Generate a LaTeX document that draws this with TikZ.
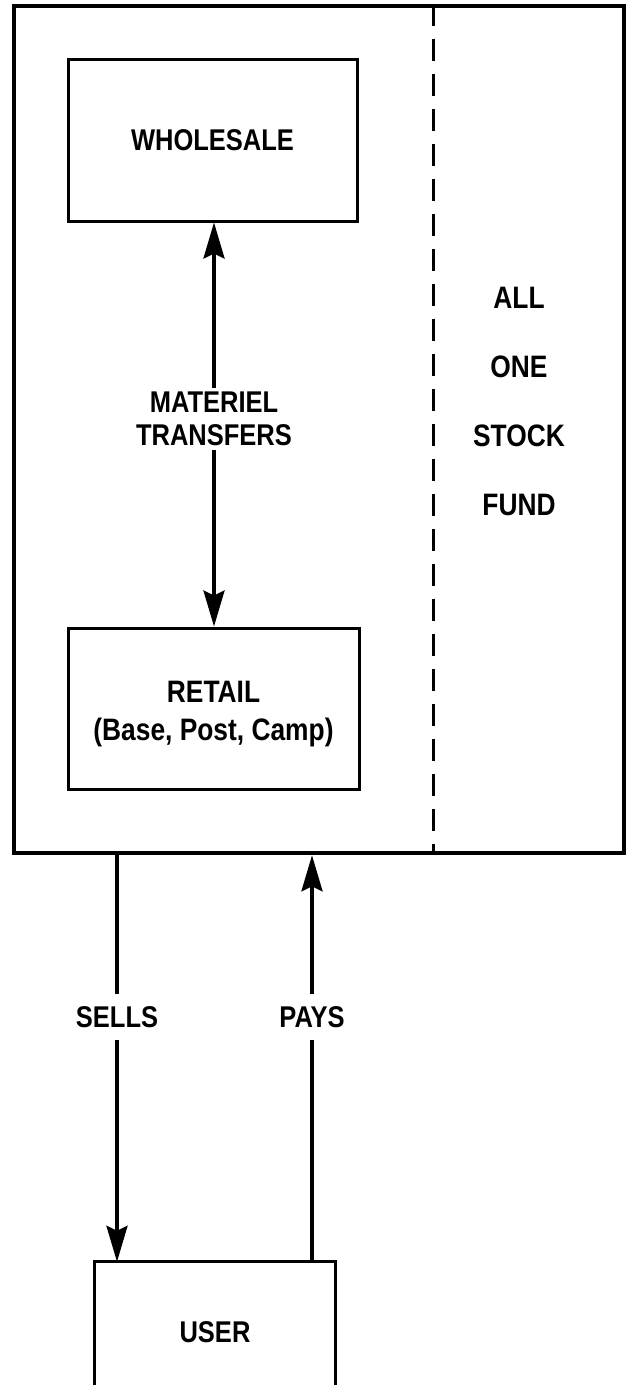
\documentclass[tikz,border=0pt]{standalone}
\usepackage{fontspec}
\setmainfont{Liberation Sans}[FakeStretch=0.85]
\usetikzlibrary{arrows.meta,calc}
\begin{document}
\begin{tikzpicture}[x=1pt,y=-1pt,
  every node/.style={font=\fontsize{30}{36}\selectfont\bfseries},
  outerbox/.style={draw,line width=4.5pt,inner sep=0pt},
  unitbox/.style={draw,line width=3pt,inner sep=0pt,align=center},
  lbl/.style={align=center,inner xsep=2pt},
  conn/.style={line width=3.5pt},
  tip/.style={-{Stealth[length=36pt,width=21pt,inset=5pt]}},
  divider/.style={line width=3pt,dash pattern=on 22pt off 13pt}]
\clip (0,0) rectangle (627,1385);
\fill[white] (0,0) rectangle (627,1385);
% boxes
\node[outerbox,minimum width=610pt,minimum height=847pt] (fund) at (319,429.5) {};
\node[unitbox,minimum width=289pt,minimum height=162pt] (wholesale) at (212.5,140) {WHOLESALE};
\node[unitbox,minimum width=291pt,minimum height=161pt,font=\fontsize{31}{38}\selectfont\bfseries] (retail) at (213.5,708.5) {\rule{0pt}{32pt}RETAIL\\(Base, Post, Camp)};
\node[inner sep=0pt,minimum width=240pt,minimum height=140pt] (user) at (215,1332) {USER};
% labels
\node[lbl,font=\fontsize{30}{33}\selectfont\bfseries,inner ysep=4pt] (mt) at (214,419) {MATERIEL\\TRANSFERS};
\node[lbl,font=\fontsize{31}{69}\selectfont\bfseries] (aosf) at (519,401) {ALL\\ONE\\STOCK\\FUND};
\node[lbl,inner ysep=12pt] (sells) at (117,1017) {SELLS};
\node[lbl,inner ysep=12pt] (pays) at (312,1017) {PAYS};
% divider
\coordinate (dx) at (433,0);
\draw[divider] (fund.north -| dx) -- (fund.south -| dx);
% user box (open at the bottom)
\draw[line width=3pt] (user.south west) -- (user.north west) -- (user.north east) -- (user.south east);
% connectors
\draw[conn,tip] (mt.north) -- (mt.north |- wholesale.south);
\draw[conn,tip] (mt.south) -- (mt.south |- retail.north);
\draw[conn] (fund.south -| sells) -- (sells.north);
\draw[conn,tip] (sells.south) -- (sells.south |- user.north);
\draw[conn,tip] (pays.north) -- (pays.north |- fund.south);
\draw[conn] (user.north -| pays) -- (pays.south);
\end{tikzpicture}
\end{document}
